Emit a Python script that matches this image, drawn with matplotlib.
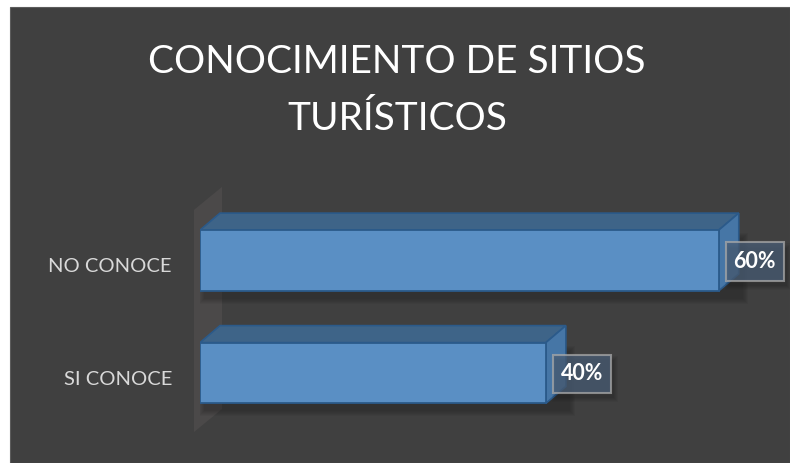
import matplotlib.pyplot as plt
from matplotlib.patches import Polygon, Rectangle

# Data
categories = ['SI CONOCE', 'NO CONOCE']
percentages = [40, 60]
value_labels = ['40%', '60%']
title = 'CONOCIMIENTO DE SITIOS\nTURÍSTICOS'

plt.rcParams['font.family'] = ['Lato', 'DejaVu Sans']

W, H = 790, 463
fig = plt.figure(figsize=(W / 100, H / 100), dpi=100)
fig.patch.set_facecolor('white')

# Dark chart area
fig.patches.append(Rectangle((10 / W, 0), 780 / W, 456 / H,
                             transform=fig.transFigure, facecolor='#404040',
                             edgecolor='#5c5c5c', lw=0.8, zorder=-5))

# Plot area
ax_w, ax_h = 562, 247.5
ax = fig.add_axes([200 / W, 22.5 / H, ax_w / W, ax_h / H])
ax.set_zorder(2)
ax.set_xlim(0, 65)
ax.set_ylim(-0.6, 1.6)
ax.axis('off')

px_x = ax_w / 65      # pixels per percent
px_y = ax_h / 2.2     # pixels per category step
dx, dy = 20 / px_x, 17 / px_y   # 3D depth
bar_h = 0.54

front_c = '#5a8fc4'
top_c = '#3e6488'
side_c = '#4676a6'
edge_c = '#2b5a8a'

# Back wall along the category axis
wx0 = -6 / px_x
wy0, wy1 = -0.525, 1.45
ax.add_patch(Polygon([(wx0, wy0), (wx0, wy1),
                      (wx0 + 28 / px_x, wy1 + 23 / px_y),
                      (wx0 + 28 / px_x, wy0 + 23 / px_y)],
                     closed=True, facecolor='#4b4949', edgecolor='none',
                     zorder=1, clip_on=False))

for y, v, lab in zip(range(len(categories)), percentages, value_labels):
    top = y + bar_h / 2
    bot = y - bar_h / 2

    # soft shadow
    for k in range(6):
        ax.add_patch(Rectangle((4 / px_x - k / px_x, bot - 8 / px_y - k / px_y),
                               v + dx + 2 * k / px_x, bar_h + 2 * k / px_y,
                               facecolor='black', alpha=0.035, lw=0, zorder=1.5))

    ax.barh(y, v, height=bar_h, color=front_c, edgecolor=edge_c,
            linewidth=1.3, zorder=3)
    ax.add_patch(Polygon([(0, top), (v, top), (v + dx, top + dy), (dx, top + dy)],
                         closed=True, facecolor=top_c, edgecolor=edge_c,
                         lw=1.2, zorder=2.5))
    ax.add_patch(Polygon([(v, bot), (v + dx, bot + dy), (v + dx, top + dy), (v, top)],
                         closed=True, facecolor=side_c, edgecolor=edge_c,
                         lw=1.2, zorder=2.5))

    # value label box
    bx = v + 7 / px_x
    bw, bh = 58 / px_x, 38 / px_y
    by = y - 1 / px_y
    for k in range(5):
        ax.add_patch(Rectangle((bx + 3 / px_x - k / px_x, by - bh / 2 - 5 / px_y - k / px_y),
                               bw + 2 * k / px_x, bh + 2 * k / px_y,
                               facecolor='black', alpha=0.04, lw=0, zorder=3.5,
                               clip_on=False))
    ax.add_patch(Rectangle((bx, by - bh / 2), bw, bh, facecolor='#4a5e76',
                           alpha=0.75, edgecolor='#a8a8a8', lw=1.5, zorder=4,
                           clip_on=False))
    ax.text(bx + bw / 2, by, lab, ha='center', va='center', color='white',
            fontsize=15.5, fontweight='bold', zorder=5, clip_on=False)

    # category label
    ax.text(-28 / px_x, y - 6.5 / px_y, categories[y], ha='right', va='center',
            color='#d9d9d9', fontsize=14.5)

fig.text(397 / W, 1 - 44 / H, title, ha='center', va='top', color='white',
         fontsize=28, linespacing=1.72)

fig.savefig('out.png', dpi=100, facecolor=fig.get_facecolor())
